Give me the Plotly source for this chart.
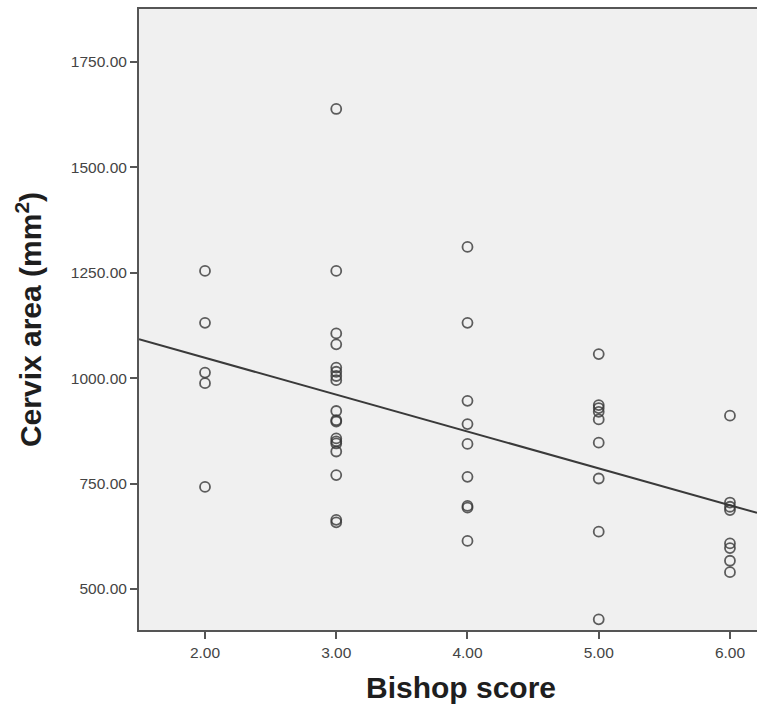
import numpy as np
import plotly.graph_objects as go

# Bishop score (x) and cervix area in mm^2 (y)
bishop_score = (
    [2] * 5
    + [3] * 18
    + [4] * 9
    + [5] * 9
    + [6] * 8
)
cervix_area = [
    # score 2
    1254, 1131, 1013, 988, 742,
    # score 3
    1638, 1254, 1106, 1080, 1025, 1015, 1005, 995, 922, 900, 897,
    857, 850, 845, 826, 770, 664, 658,
    # score 4
    1311, 1131, 946, 891, 844, 766, 697, 693, 614,
    # score 5
    1057, 936, 929, 920, 902, 847, 762, 636, 428,
    # score 6
    911, 705, 695, 687, 608, 597, 567, 540,
]

x_ticks = [2, 3, 4, 5, 6]
y_ticks = [500, 750, 1000, 1250, 1500, 1750]
x_range = [1.497, 6.206]
y_range = [402.8, 1875]

x_title = "Bishop score"
y_title = "Cervix area (mm<sup>2</sup>)"

# least-squares fit line drawn across the plotted x range
slope, intercept = np.polyfit(bishop_score, cervix_area, 1)
fit_x = np.array(x_range)
fit_y = intercept + slope * fit_x

fig = go.Figure()
fig.add_trace(go.Scatter(
    x=fit_x, y=fit_y, mode="lines",
    line=dict(color="#3a3a3a", width=2),
    hoverinfo="skip", showlegend=False,
))
fig.add_trace(go.Scatter(
    x=bishop_score, y=cervix_area, mode="markers",
    marker=dict(symbol="circle-open", size=10, color="rgba(55,55,55,0.8)",
                line=dict(width=1.8)),
    showlegend=False,
))

axis_font = dict(family="Liberation Sans, Arial, sans-serif", size=15.5, color="#444")
title_font = dict(family="Liberation Sans, Arial, sans-serif", size=30, color="#1e1e1e")

fig.update_layout(
    width=757, height=712,
    margin=dict(l=139, r=0, t=9, b=82),
    paper_bgcolor="white",
    plot_bgcolor="#f0f0f0",
    xaxis=dict(
        range=x_range, tickvals=x_ticks, tickformat=".2f",
        showgrid=False, zeroline=False,
        showline=True, linecolor="#555", linewidth=2, mirror=True,
        ticks="outside", ticklen=7, tickwidth=1.5, tickcolor="#555",
        tickfont=axis_font,
    ),
    yaxis=dict(
        range=y_range, tickvals=y_ticks, tickformat=".2f",
        showgrid=False, zeroline=False,
        showline=True, linecolor="#555", linewidth=2,
        ticks="outside", ticklen=7, tickwidth=1.5, tickcolor="#555",
        tickfont=axis_font,
        title=dict(text="<b>" + y_title + "</b>", font=title_font, standoff=20),
    ),
    annotations=[dict(
        text="<b>" + x_title + "</b>", font=title_font, showarrow=False,
        xref="paper", yref="paper", x=0.5218, y=-0.092,
        xanchor="center", yanchor="middle",
    )],
)

fig.write_html(
    "out.html",
    config={"displayModeBar": False},
    post_script="document.body.style.margin='0';",
)
